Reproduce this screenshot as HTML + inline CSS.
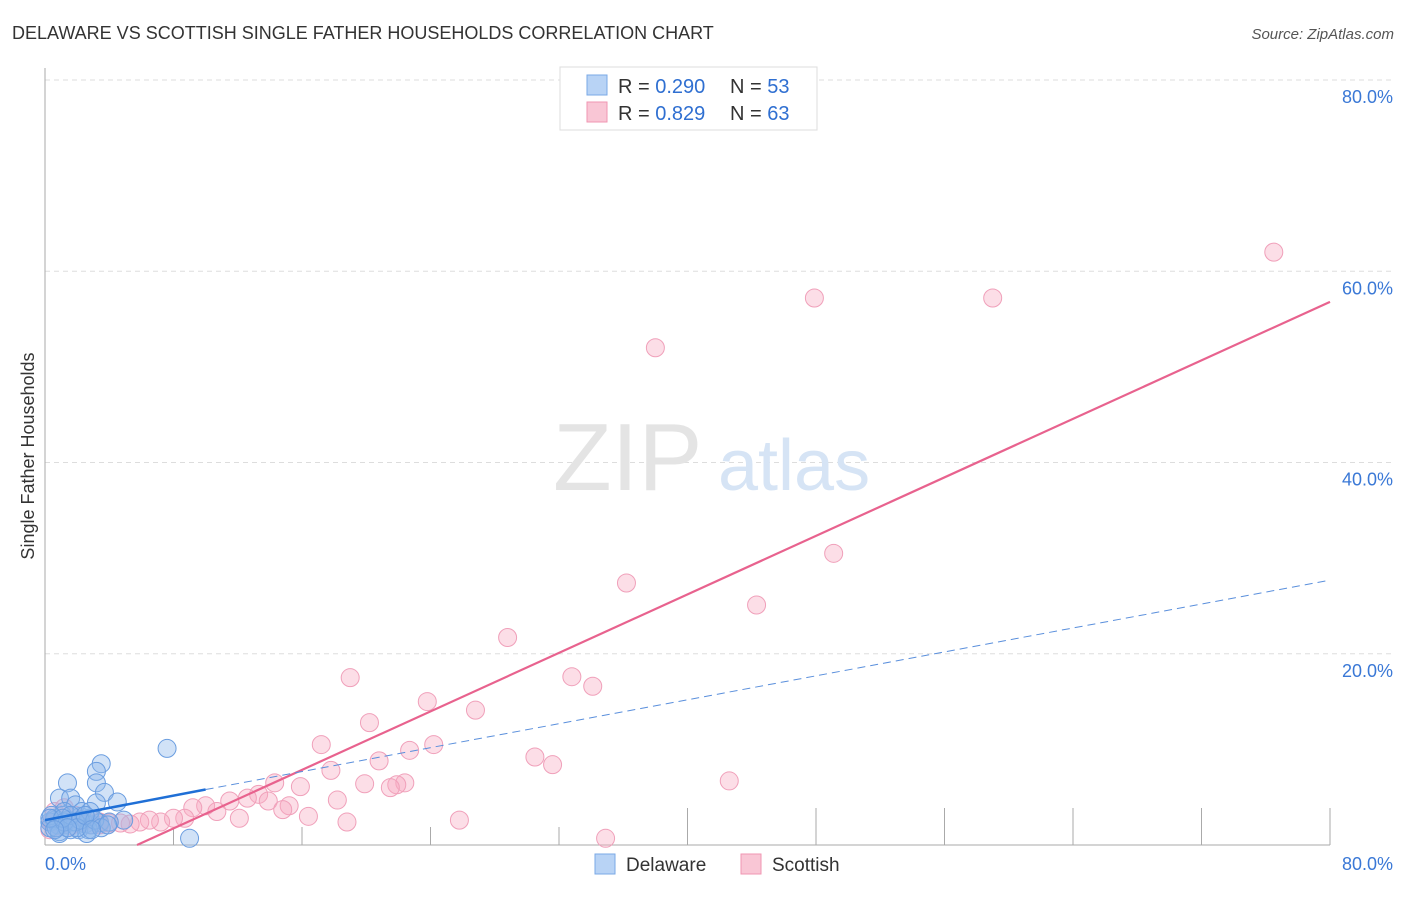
<!DOCTYPE html>
<html><head><meta charset="utf-8"><style>
body{margin:0;background:#fff;font-family:"Liberation Sans",sans-serif;}
svg text{font-family:"Liberation Sans",sans-serif;}
</style></head><body>
<svg id="chart" width="1406" height="892" xmlns="http://www.w3.org/2000/svg">
<text x="12" y="39" font-size="18" fill="#333">DELAWARE VS SCOTTISH SINGLE FATHER HOUSEHOLDS CORRELATION CHART</text>
<text x="1394" y="39" font-size="15" fill="#555" font-style="italic" text-anchor="end">Source: ZipAtlas.com</text>
<text x="34" y="456" font-size="18" fill="#333" text-anchor="middle" transform="rotate(-90 34 456)">Single Father Households</text>
<g id="grid"></g>
<text x="553" y="490" font-size="96" fill="#e4e4e4" font-family="Liberation Serif">ZIP</text>
<text x="718" y="490" font-size="72" fill="#d6e4f5">atlas</text>
<g id="axes"></g>
<g id="marks"></g>
<g>
<rect x="560" y="67" width="257" height="63" fill="#fff" stroke="#ddd"/>
<rect x="587" y="75" width="20" height="20" fill="#b8d3f5" stroke="#7aa8e6"/>
<rect x="587" y="102" width="20" height="20" fill="#f9c6d5" stroke="#f096b2"/>
<text x="618" y="93" font-size="20" fill="#333">R = <tspan fill="#2f6fd1">0.290</tspan></text>
<text x="730" y="93" font-size="20" fill="#333">N = <tspan fill="#2f6fd1">53</tspan></text>
<text x="618" y="120" font-size="20" fill="#333">R = <tspan fill="#2f6fd1"> 0.829</tspan></text>
<text x="730" y="120" font-size="20" fill="#333">N = <tspan fill="#2f6fd1">63</tspan></text>
</g>
<g>
<rect x="595" y="854" width="20" height="20" fill="#b8d3f5" stroke="#7aa8e6"/>
<text x="626" y="871" font-size="19" fill="#333">Delaware</text>
<rect x="741" y="854" width="20" height="20" fill="#f9c6d5" stroke="#f096b2"/>
<text x="772" y="871" font-size="19" fill="#333">Scottish</text>
</g>
</svg>
<script>
const yTicks=[20,40,60,80];
const yTickLabels=["20.0%","40.0%","60.0%","80.0%"];
const xTickLabels=["0.0%","80.0%"];
const pinkX=[76.5,47.9,59.0,38.0,49.1,36.2,44.3,28.8,19.0,32.8,34.1,23.8,26.8,20.2,17.2,24.2,22.7,20.8,30.5,31.6,17.8,42.6,14.3,22.4,21.9,21.5,19.9,15.9,13.3,12.6,13.9,15.2,18.2,11.5,10.0,14.8,16.4,12.1,18.8,25.8,10.7,9.2,8.7,8.0,7.2,6.5,5.9,5.3,4.7,4.0,3.4,2.8,2.2,1.6,0.9,0.4,0.6,1.2,1.9,2.5,34.9,3.4,0.3];
const pinkY=[62.0,57.2,57.2,52.0,30.5,27.4,25.1,21.7,17.5,17.6,16.6,15.0,14.1,12.8,10.5,10.5,9.9,8.8,9.2,8.4,7.8,6.7,6.5,6.5,6.3,6.0,6.4,6.1,5.3,4.9,4.6,4.1,4.7,4.6,4.1,3.7,3.0,2.8,2.4,2.6,3.5,3.9,2.8,2.8,2.4,2.6,2.4,2.2,2.3,2.3,2.1,2.1,2.4,2.0,2.0,2.4,3.5,3.9,3.1,2.6,0.7,2.4,1.6];
const blueX=[7.6,3.5,3.2,3.2,1.4,3.7,4.5,0.9,1.6,3.2,1.9,1.1,1.4,2.2,2.8,0.6,0.3,0.8,1.2,1.7,2.5,2.9,3.4,2.1,2.7,0.9,1.6,0.3,0.6,1.2,2.3,2.8,9.0,2.6,0.9,4.9,4.0,1.9,0.4,0.7,1.2,1.6,2.2,3.1,3.5,3.9,0.3,1.1,2.0,2.5,1.4,2.9,0.6];
const blueY=[10.1,8.5,7.7,6.5,6.5,5.5,4.5,4.9,4.9,4.4,4.2,3.1,2.6,3.0,2.8,2.6,2.4,2.1,2.1,2.4,2.2,2.1,2.3,1.6,1.6,1.4,1.6,1.8,2.8,3.5,3.5,3.5,0.7,1.2,1.2,2.6,2.4,2.4,3.1,1.8,2.4,3.1,2.6,2.6,1.8,2.1,2.8,2.8,1.8,3.1,1.8,1.6,1.6];
const pinkLine=[[5.73,0],[80,56.8]];
const blueLine=[[0,2.6],[10,5.8],[80,27.7]];
const sx=v=>45+v*(1330-45)/80;
const sy=v=>845-v*(845-80)/80;
const NS="http://www.w3.org/2000/svg";
function mk(parent,tag,attrs){const e=document.createElementNS(NS,tag);for(const k in attrs)e.setAttribute(k,attrs[k]);parent.appendChild(e);return e;}
const grid=document.getElementById('grid'),axes=document.getElementById('axes'),marks=document.getElementById('marks');
yTicks.forEach((t,i)=>{
 const l=mk(grid,'line',{x1:45,x2:1394,y1:sy(t),y2:sy(t),stroke:'#ddd','stroke-dasharray':'5,4'});
 
 
 const tx=mk(axes,'text',{x:1393,y:sy(t)+23,'font-size':18,fill:'#3a78d6','text-anchor':'end'});
 tx.textContent=yTickLabels[i];
 
 
});
mk(axes,'line',{x1:45,x2:45,y1:68,y2:845,stroke:'#aaa'});
mk(axes,'line',{x1:45,x2:1330,y1:845,y2:845,stroke:'#aaa'});
for(let i=1;i<=10;i++){const x=sx(i*8);const t=mk(axes,'line',{x1:x,x2:x,y1:(i>=5?808:827),y2:845,stroke:'#aaa'});
 
 }
[[0,'start',45],[80,'end',1393]].forEach((d,i)=>{const t=mk(axes,'text',{x:d[2],y:870,'font-size':18,fill:'#3a78d6','text-anchor':d[1]});t.textContent=xTickLabels[i];
 
 });
pinkX.forEach((x,i)=>{const c=mk(marks,'circle',{cx:sx(x),cy:sy(pinkY[i]),r:9,fill:'rgba(246,168,192,0.38)',stroke:'#f0a0ba','stroke-width':1});
 
 });
blueX.forEach((x,i)=>{const c=mk(marks,'circle',{cx:sx(x),cy:sy(blueY[i]),r:9,fill:'rgba(140,182,236,0.4)',stroke:'#6a9de0','stroke-width':1});
 
 });
const pl=mk(marks,'line',{x1:sx(pinkLine[0][0]),y1:sy(pinkLine[0][1]),x2:sx(pinkLine[1][0]),y2:sy(pinkLine[1][1]),stroke:'#e8628e','stroke-width':2.2});


const bl=mk(marks,'line',{x1:sx(blueLine[0][0]),y1:sy(blueLine[0][1]),x2:sx(blueLine[1][0]),y2:sy(blueLine[1][1]),stroke:'#1f6fd6','stroke-width':2.5});


const bd=mk(marks,'line',{x1:sx(blueLine[1][0]),y1:sy(blueLine[1][1]),x2:sx(blueLine[2][0]),y2:sy(blueLine[2][1]),stroke:'#5a8fdc','stroke-width':1,'stroke-dasharray':'8,5'});


</script>
</body></html>
